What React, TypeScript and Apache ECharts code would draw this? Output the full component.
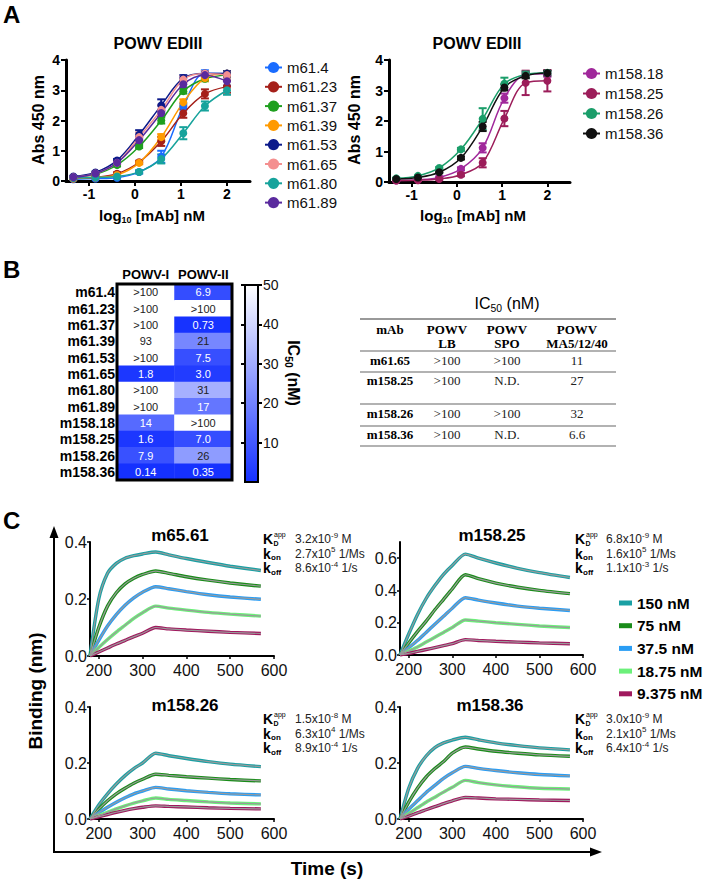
import React, { useEffect, useRef } from 'react';
import * as echarts from 'echarts';

const SANS = 'Liberation Sans, Arial, Helvetica, sans-serif';
const SERIF = 'Liberation Serif, Times New Roman, serif';

// ---------- Panel A : ELISA ----------
const logConc = [-1.34, -0.86, -0.39, 0.09, 0.57, 1.05, 1.52, 2.0];
const logTicks = [-1, 0, 1, 2];

const m61Names = ['m61.4', 'm61.23', 'm61.37', 'm61.39', 'm61.53', 'm61.65', 'm61.80', 'm61.89'];
const m61Colors = ['#1a6cff', '#a5201a', '#1f9f1f', '#ff9a00', '#0c1a8a', '#f49090', '#17a39c', '#5a2a9e'];
const m61_4 = [0.06, 0.08, 0.11, 0.3, 0.8, 2.46, 3.56, 3.55];
const m61_23 = [0.08, 0.12, 0.24, 0.62, 1.31, 2.24, 2.88, 3.12];
const m61_37 = [0.12, 0.22, 0.53, 1.14, 2.0, 2.97, 3.38, 3.5];
const m61_39 = [0.08, 0.12, 0.2, 0.6, 1.45, 2.6, 3.4, 3.55];
const m61_53 = [0.15, 0.28, 0.68, 1.53, 2.5, 3.4, 3.55, 3.55];
const m61_65 = [0.12, 0.25, 0.6, 1.45, 2.35, 3.35, 3.55, 3.5];
const m61_80 = [0.1, 0.12, 0.15, 0.3, 0.73, 1.58, 2.48, 3.0];
const m61_89 = [0.12, 0.25, 0.6, 1.35, 2.25, 3.2, 3.5, 3.3];
const m61Err_4 = [0.02, 0.02, 0.03, 0.05, 0.2, 0.1, 0.1, 0.08];
const m61Err_23 = [0.02, 0.02, 0.05, 0.05, 0.15, 0.15, 0.15, 0.2];
const m61Err_37 = [0.02, 0.02, 0.05, 0.05, 0.1, 0.08, 0.08, 0.08];
const m61Err_39 = [0.02, 0.02, 0.03, 0.05, 0.1, 0.1, 0.1, 0.08];
const m61Err_53 = [0.02, 0.03, 0.05, 0.15, 0.2, 0.1, 0.08, 0.08];
const m61Err_65 = [0.02, 0.02, 0.05, 0.15, 0.15, 0.1, 0.08, 0.08];
const m61Err_80 = [0.02, 0.02, 0.03, 0.05, 0.15, 0.2, 0.15, 0.15];
const m61Err_89 = [0.02, 0.02, 0.05, 0.1, 0.1, 0.1, 0.08, 0.15];

const m158Names = ['m158.18', 'm158.25', 'm158.26', 'm158.36'];
const m158Colors = ['#a0289b', '#9c1d5a', '#1b9e6a', '#111111'];
const m158_18 = [0.05, 0.07, 0.15, 0.43, 1.12, 2.75, 3.52, 3.55];
const m158_25 = [0.05, 0.06, 0.1, 0.24, 0.63, 2.08, 3.25, 3.32];
const m158_26 = [0.12, 0.2, 0.46, 1.07, 2.07, 3.22, 3.52, 3.58];
const m158_36 = [0.1, 0.15, 0.32, 0.79, 1.82, 3.1, 3.48, 3.57];
const m158Err_18 = [0.02, 0.02, 0.03, 0.05, 0.15, 0.15, 0.1, 0.1];
const m158Err_25 = [0.02, 0.02, 0.03, 0.05, 0.15, 0.25, 0.4, 0.35];
const m158Err_26 = [0.02, 0.02, 0.03, 0.05, 0.35, 0.2, 0.1, 0.05];
const m158Err_36 = [0.02, 0.02, 0.03, 0.05, 0.15, 0.1, 0.08, 0.08];

// ---------- Panel B : heatmap ----------
const hmRows = ['m61.4', 'm61.23', 'm61.37', 'm61.39', 'm61.53', 'm61.65', 'm61.80', 'm61.89', 'm158.18', 'm158.25', 'm158.26', 'm158.36'];
const hmCols = ['POWV-I', 'POWV-II'];
const powvI = ['>100', '>100', '>100', '93', '>100', '1.8', '>100', '>100', '14', '1.6', '7.9', '0.14'];
const powvII = ['6.9', '>100', '0.73', '21', '7.5', '3.0', '31', '17', '>100', '7.0', '26', '0.35'];
const cbTicks = [10, 20, 30, 40, 50];

// ---------- Panel B : table ----------
const tblMab = ['m61.65', 'm158.25', 'm158.26', 'm158.36'];
const tblLB = ['>100', '>100', '>100', '>100'];
const tblSPO = ['>100', 'N.D.', '>100', 'N.D.'];
const tblMA = ['11', '27', '32', '6.6'];

// ---------- Panel C : BLI ----------
const times = [180, 200, 220, 240, 260, 280, 300, 330, 360, 400, 450, 500, 570];
const timeTicks = [200, 300, 400, 500, 600];
const concNames = ['150 nM', '75 nM', '37.5 nM', '18.75 nM', '9.375 nM'];
const concColors = ['#1aa0a4', '#1a8c1a', '#2a9df4', '#6cf07a', '#a0195e'];

const c1_150 = [0, 0.2, 0.29, 0.325, 0.343, 0.352, 0.358, 0.365, 0.355, 0.342, 0.328, 0.315, 0.3];
const c1_75 = [0, 0.1, 0.175, 0.222, 0.253, 0.273, 0.286, 0.298, 0.29, 0.278, 0.266, 0.256, 0.245];
const c1_37 = [0, 0.055, 0.105, 0.145, 0.178, 0.204, 0.224, 0.243, 0.236, 0.226, 0.215, 0.207, 0.199];
const c1_18 = [0, 0.03, 0.058, 0.084, 0.108, 0.132, 0.152, 0.175, 0.168, 0.161, 0.153, 0.147, 0.14];
const c1_9 = [0, 0.014, 0.028, 0.042, 0.055, 0.068, 0.08, 0.1, 0.095, 0.091, 0.087, 0.083, 0.079];

const c2_150 = [0, 0.13, 0.25, 0.35, 0.43, 0.5, 0.555, 0.625, 0.6, 0.57, 0.537, 0.51, 0.48];
const c2_75 = [0, 0.075, 0.145, 0.21, 0.28, 0.345, 0.41, 0.497, 0.473, 0.445, 0.42, 0.4, 0.38];
const c2_37 = [0, 0.045, 0.09, 0.14, 0.19, 0.24, 0.29, 0.355, 0.34, 0.322, 0.303, 0.29, 0.276];
const c2_18 = [0, 0.025, 0.05, 0.08, 0.11, 0.14, 0.17, 0.217, 0.21, 0.2, 0.19, 0.18, 0.17];
const c2_9 = [0, 0.01, 0.022, 0.034, 0.046, 0.058, 0.07, 0.095, 0.09, 0.085, 0.08, 0.075, 0.07];

const c3_150 = [0, 0.05, 0.09, 0.125, 0.155, 0.18, 0.2, 0.235, 0.226, 0.216, 0.205, 0.196, 0.187];
const c3_75 = [0, 0.035, 0.065, 0.09, 0.11, 0.128, 0.142, 0.16, 0.156, 0.151, 0.146, 0.141, 0.136];
const c3_37 = [0, 0.022, 0.042, 0.06, 0.076, 0.09, 0.1, 0.113, 0.107, 0.101, 0.095, 0.09, 0.086];
const c3_18 = [0, 0.012, 0.024, 0.036, 0.047, 0.057, 0.065, 0.075, 0.07, 0.066, 0.061, 0.057, 0.054];
const c3_9 = [0, 0.008, 0.016, 0.024, 0.031, 0.037, 0.042, 0.047, 0.045, 0.043, 0.04, 0.038, 0.036];

const c4_150 = [0, 0.11, 0.18, 0.225, 0.255, 0.272, 0.282, 0.292, 0.283, 0.272, 0.262, 0.254, 0.247];
const c4_75 = [0, 0.06, 0.11, 0.15, 0.18, 0.205, 0.235, 0.257, 0.25, 0.242, 0.235, 0.229, 0.224];
const c4_37 = [0, 0.035, 0.065, 0.095, 0.12, 0.145, 0.165, 0.188, 0.181, 0.173, 0.165, 0.159, 0.154];
const c4_18 = [0, 0.02, 0.04, 0.06, 0.078, 0.096, 0.113, 0.138, 0.13, 0.122, 0.115, 0.11, 0.107];
const c4_9 = [0, 0.01, 0.022, 0.033, 0.044, 0.055, 0.065, 0.077, 0.075, 0.072, 0.07, 0.068, 0.066];

const bliTitles = ['m65.61', 'm158.25', 'm158.26', 'm158.36'];
// [KD mantissa, exp], [kon mantissa, exp], [koff mantissa, exp]
const kinC1 = [['3.2', '-9'], ['2.7', '5'], ['8.6', '-4']];
const kinC2 = [['6.8', '-9'], ['1.6', '5'], ['1.1', '-3']];
const kinC3 = [['1.5', '-8'], ['6.3', '4'], ['8.9', '-4']];
const kinC4 = [['3.0', '-9'], ['2.1', '5'], ['6.4', '-4']];
const kinUnits = ['M', '1/Ms', '1/s'];

function txt(x: number, y: number, text: string, o: any = {}) {
  return {
    type: 'text',
    x,
    y,
    rotation: o.rotation || 0,
    silent: true,
    z: 100,
    style: {
      text,
      fill: o.fill || '#000',
      fontSize: o.size || 14,
      fontWeight: o.weight || 'normal',
      fontFamily: o.family || SANS,
      align: o.align || 'left',
      textAlign: o.align || 'left',
      verticalAlign: 'middle',
      textVerticalAlign: 'middle',
      rich: o.rich,
    },
  };
}

function line(x1: number, y1: number, x2: number, y2: number, color = '#000', w = 2) {
  return { type: 'line', silent: true, z: 100, shape: { x1, y1, x2, y2 }, style: { stroke: color, lineWidth: w } };
}

const expRich = {
  n: { fontSize: 12, fontFamily: SANS, fill: '#222', lineHeight: 16 },
  e: { fontSize: 8, fontFamily: SANS, fill: '#222', lineHeight: 8, verticalAlign: 'top' },
};

function kinBlock(x: number, vx: number, y: number, kin: string[][]) {
  const out: any[] = [];
  const ys = [y, y + 14.5, y + 29];
  out.push(txt(x, ys[0], 'K', { size: 14, weight: 'bold' }));
  out.push(txt(x + 10.5, ys[0] + 4, 'D', { size: 7, weight: 'bold' }));
  out.push(txt(x + 11, ys[0] - 5, 'app', { size: 7 }));
  out.push(txt(x, ys[1], 'k', { size: 14, weight: 'bold' }));
  out.push(txt(x + 8, ys[1] + 4, 'on', { size: 8, weight: 'bold' }));
  out.push(txt(x, ys[2], 'k', { size: 14, weight: 'bold' }));
  out.push(txt(x + 8, ys[2] + 4, 'off', { size: 8, weight: 'bold' }));
  kin.forEach((k, i) => {
    out.push(txt(vx, ys[i], `{n|${k[0]}x10}{e|${k[1]}}{n| ${kinUnits[i]}}`, { rich: expRich }));
  });
  return out;
}

function buildOption() {
  const series: any[] = [];

  const elisa = (names: string[], colors: string[], vals: number[][], errs: number[][], gi: number) => {
    names.forEach((n, i) => {
      const color = colors[i];
      series.push({
        type: 'line',
        name: n,
        xAxisIndex: gi,
        yAxisIndex: gi,
        data: logConc.map((x, j) => [x, vals[i][j]]),
        smooth: 0.35,
        symbol: 'circle',
        symbolSize: 8,
        lineStyle: { width: 1.5, color },
        itemStyle: { color },
        z: 3,
      });
      series.push({
        type: 'custom',
        name: n + ' sem',
        xAxisIndex: gi,
        yAxisIndex: gi,
        silent: true,
        z: 2,
        data: logConc.map((x, j) => [x, vals[i][j], errs[i][j]]),
        renderItem: (_p: any, api: any) => {
          const x = api.value(0);
          const y = api.value(1);
          const e = api.value(2);
          const t = api.coord([x, y + e]);
          const b = api.coord([x, y - e]);
          const w = 4;
          const st = { stroke: color, lineWidth: 2 };
          return {
            type: 'group',
            children: [
              { type: 'line', shape: { x1: t[0], y1: t[1], x2: b[0], y2: b[1] }, style: st },
              { type: 'line', shape: { x1: t[0] - w, y1: t[1], x2: t[0] + w, y2: t[1] }, style: st },
              { type: 'line', shape: { x1: b[0] - w, y1: b[1], x2: b[0] + w, y2: b[1] }, style: st },
            ],
          };
        },
      });
    });
  };
  elisa(m61Names, m61Colors, [m61_4, m61_23, m61_37, m61_39, m61_53, m61_65, m61_80, m61_89],
    [m61Err_4, m61Err_23, m61Err_37, m61Err_39, m61Err_53, m61Err_65, m61Err_80, m61Err_89], 0);
  elisa(m158Names, m158Colors, [m158_18, m158_25, m158_26, m158_36],
    [m158Err_18, m158Err_25, m158Err_26, m158Err_36], 1);

  // heatmap
  const hmData: any[] = [];
  [powvI, powvII].forEach((col, c) => {
    col.forEach((lab, r) => {
      const num = lab.startsWith('>') ? 100 : parseFloat(lab);
      hmData.push({ value: [c, r, num], txt: lab, label: { color: num < 20 ? '#ffffff' : '#222222' } });
    });
  });
  const hmIndex = series.length;
  series.push({
    type: 'heatmap',
    xAxisIndex: 2,
    yAxisIndex: 2,
    data: hmData,
    label: { show: true, fontSize: 11, fontFamily: SANS, formatter: (p: any) => p.data.txt },
    itemStyle: { borderWidth: 0 },
  });
  // colour bar
  series.push({
    type: 'bar',
    xAxisIndex: 3,
    yAxisIndex: 3,
    data: [50],
    barWidth: '100%',
    silent: true,
    itemStyle: {
      color: new echarts.graphic.LinearGradient(0, 0, 0, 1, [
        { offset: 0, color: '#ffffff' },
        { offset: 1, color: '#1430ff' },
      ]),
    },
  });

  // BLI
  const bli = (panel: number[][], gi: number) => {
    panel.forEach((vals, i) => {
      const data = times.map((t, j) => [t, vals[j]]);
      series.push({
        type: 'line', name: concNames[i], xAxisIndex: gi, yAxisIndex: gi, data,
        symbol: 'none', smooth: 0.25, lineStyle: { width: 3.4, color: concColors[i] },
        itemStyle: { color: concColors[i] }, z: 2, silent: true,
      });
      series.push({
        type: 'line', name: concNames[i] + ' fit', xAxisIndex: gi, yAxisIndex: gi, data,
        symbol: 'none', smooth: 0.25, lineStyle: { width: 1.2, color: '#9a9a9a' }, z: 3, silent: true,
      });
    });
  };
  bli([c1_150, c1_75, c1_37, c1_18, c1_9], 4);
  bli([c2_150, c2_75, c2_37, c2_18, c2_9], 5);
  bli([c3_150, c3_75, c3_37, c3_18, c3_9], 6);
  bli([c4_150, c4_75, c4_37, c4_18, c4_9], 7);

  const grid = [
    { left: 66, top: 60, width: 184, height: 121 },
    { left: 389, top: 60, width: 181, height: 122 },
    { left: 117, top: 284, width: 115, height: 196 },
    { left: 245, top: 285, width: 13, height: 197 },
    { left: 90, top: 542, width: 184, height: 114 },
    { left: 400, top: 542, width: 183, height: 113 },
    { left: 90, top: 707, width: 184, height: 112 },
    { left: 400, top: 707, width: 183, height: 112 },
  ];

  const aX = (gi: number) => ({
    gridIndex: gi, type: 'value', min: -1.5, max: 2.5,
    axisLine: { show: true, onZero: false, lineStyle: { color: '#000', width: 3 } },
    axisTick: { show: true, customValues: logTicks, length: 5, lineStyle: { color: '#000', width: 2 } },
    axisLabel: { customValues: logTicks, fontWeight: 'bold', fontSize: 14, color: '#000', fontFamily: SANS, margin: 6 },
    splitLine: { show: false },
  });
  const aY = (gi: number) => ({
    gridIndex: gi, type: 'value', min: 0, max: 4, interval: 1,
    axisLine: { show: true, onZero: false, lineStyle: { color: '#000', width: 3 } },
    axisTick: { show: true, length: 5, lineStyle: { color: '#000', width: 2 } },
    axisLabel: { fontWeight: 'bold', fontSize: 14, color: '#000', fontFamily: SANS, margin: 6 },
    splitLine: { show: false },
  });
  const cX = (gi: number) => ({
    gridIndex: gi, type: 'value', min: 180, max: 600,
    axisLine: { show: true, onZero: false, lineStyle: { color: '#000', width: 2 } },
    axisTick: { show: true, customValues: timeTicks, length: 3, lineStyle: { color: '#000', width: 1.5 } },
    axisLabel: { customValues: timeTicks, fontSize: 16, color: '#111', fontFamily: SANS, margin: 6 },
    splitLine: { show: false },
  });
  const cY = (gi: number, max: number, ticks: number[]) => ({
    gridIndex: gi, type: 'value', min: 0, max,
    axisLine: { show: true, onZero: false, lineStyle: { color: '#000', width: 2 } },
    axisTick: { show: true, customValues: ticks, length: 3, lineStyle: { color: '#000', width: 1.5 } },
    axisLabel: { customValues: ticks, fontSize: 16, color: '#111', fontFamily: SANS, margin: 3, formatter: (v: number) => v.toFixed(1) },
    splitLine: { show: false },
  });

  const xAxis = [
    aX(0), aX(1),
    { gridIndex: 2, type: 'category', data: hmCols, position: 'top', axisLine: { show: false }, axisTick: { show: false },
      axisLabel: { interval: 0, fontWeight: 'bold', fontSize: 13, color: '#000', fontFamily: SANS, margin: 3 } },
    { gridIndex: 3, type: 'category', data: ['IC50'], show: false },
    cX(4), cX(5), cX(6), cX(7),
  ];
  const yAxis = [
    aY(0), aY(1),
    { gridIndex: 2, type: 'category', data: hmRows, inverse: true, axisLine: { show: false }, axisTick: { show: false },
      axisLabel: { interval: 0, fontWeight: 'bold', fontSize: 14, color: '#000', fontFamily: SANS, margin: 2 } },
    { gridIndex: 3, type: 'value', min: 0, max: 50, position: 'right',
      axisLine: { show: true, lineStyle: { color: '#000', width: 2 } },
      axisTick: { show: true, customValues: cbTicks, length: 4, lineStyle: { color: '#000', width: 2 } },
      axisLabel: { customValues: cbTicks, fontSize: 14, color: '#111', fontFamily: SANS, margin: 5 },
      splitLine: { show: false } },
    cY(4, 0.4, [0, 0.2, 0.4]), cY(5, 0.7, [0, 0.2, 0.4, 0.6]), cY(6, 0.4, [0, 0.2, 0.4]), cY(7, 0.4, [0, 0.2, 0.4]),
    { gridIndex: 3, type: 'value', min: 0, max: 50, position: 'left',
      axisLine: { show: true, lineStyle: { color: '#000', width: 2 } },
      axisTick: { show: true, customValues: cbTicks, length: 4, lineStyle: { color: '#000', width: 2 } },
      axisLabel: { show: false }, splitLine: { show: false } },
  ];

  const legend = [
    { data: m61Names, orient: 'vertical', left: 259, top: 55, itemWidth: 17, itemHeight: 14, itemGap: 4.3,
      textStyle: { fontSize: 15, color: '#111', fontFamily: SANS, lineHeight: 14 }, selectedMode: false },
    { data: m158Names, orient: 'vertical', left: 577, top: 61, itemWidth: 17, itemHeight: 14, itemGap: 5,
      textStyle: { fontSize: 15, color: '#111', fontFamily: SANS, lineHeight: 14 }, selectedMode: false },
    { data: concNames, orient: 'vertical', left: 614, top: 589, itemWidth: 13, itemHeight: 5, itemGap: 4.7, icon: 'rect',
      textStyle: { fontSize: 15.5, fontWeight: 'bold', color: '#000', fontFamily: SANS, lineHeight: 18 }, selectedMode: false },
  ];

  const subRich = {
    a: { fontSize: 15, fontWeight: 'bold', fontFamily: SANS, fill: '#000', lineHeight: 18 },
    s: { fontSize: 9, fontWeight: 'bold', fontFamily: SANS, fill: '#000', lineHeight: 9, verticalAlign: 'bottom' },
  };
  const icRich = (size: number, weight: string) => ({
    a: { fontSize: size, fontWeight: weight, fontFamily: SANS, fill: '#000', lineHeight: size + 4 },
    s: { fontSize: size * 0.65, fontWeight: weight, fontFamily: SANS, fill: '#000', lineHeight: size * 0.65, verticalAlign: 'bottom' },
  });

  const g: any[] = [];
  // panel letters
  g.push(txt(3, 14, 'A', { size: 24, weight: 'bold' }));
  g.push(txt(3, 269, 'B', { size: 24, weight: 'bold' }));
  g.push(txt(3, 520, 'C', { size: 24, weight: 'bold' }));
  // panel A texts
  g.push(txt(158, 43, 'POWV EDIII', { size: 16, weight: 'bold', align: 'center' }));
  g.push(txt(477, 43, 'POWV EDIII', { size: 16, weight: 'bold', align: 'center' }));
  g.push(txt(38, 120, 'Abs 450 nm', { size: 16, weight: 'bold', align: 'center', rotation: Math.PI / 2 }));
  g.push(txt(354, 120, 'Abs 450 nm', { size: 16, weight: 'bold', align: 'center', rotation: Math.PI / 2 }));
  g.push(txt(152, 215, '{a|log}{s|10}{a| [mAb] nM}', { align: 'center', rich: subRich }));
  g.push(txt(473, 215, '{a|log}{s|10}{a| [mAb] nM}', { align: 'center', rich: subRich }));
  // heatmap frame and colour bar frame
  g.push({ type: 'rect', silent: true, z: 100, shape: { x: 117, y: 284, width: 115, height: 196 }, style: { fill: 'none', stroke: '#000', lineWidth: 3 } });
  g.push({ type: 'rect', silent: true, z: 100, shape: { x: 245, y: 285, width: 13, height: 197 }, style: { fill: 'none', stroke: '#000', lineWidth: 2 } });
  g.push(txt(293, 373, '{a|IC}{s|50}{a| (nM)}', { align: 'center', rotation: -Math.PI / 2, rich: icRich(16, 'bold') }));
  // table
  g.push(txt(507, 303, '{a|IC}{s|50}{a| (nM)}', { align: 'center', rich: icRich(16, 'normal') }));
  const tblX = [390, 447, 507, 577];
  const tblY = [360, 380, 413, 434];
  [319, 351, 372, 404, 426, 446].forEach((y, i) => g.push(line(360, y, 616, y, '#999', i === 0 ? 2 : 1.5)));
  const hdr = { size: 13, weight: 'bold', family: SERIF, align: 'center' };
  g.push(txt(tblX[0], 329, 'mAb', hdr));
  g.push(txt(tblX[1], 329, 'POWV', hdr));
  g.push(txt(tblX[2], 329, 'POWV', hdr));
  g.push(txt(tblX[3], 329, 'POWV', hdr));
  g.push(txt(tblX[1], 343, 'LB', hdr));
  g.push(txt(tblX[2], 343, 'SPO', hdr));
  g.push(txt(tblX[3], 343, 'MA5/12/40', hdr));
  tblMab.forEach((m, i) => {
    g.push(txt(tblX[0], tblY[i], m, hdr));
    g.push(txt(tblX[1], tblY[i], tblLB[i], { size: 13, family: SERIF, align: 'center', fill: '#222' }));
    g.push(txt(tblX[2], tblY[i], tblSPO[i], { size: 13, family: SERIF, align: 'center', fill: '#222' }));
    g.push(txt(tblX[3], tblY[i], tblMA[i], { size: 13, family: SERIF, align: 'center', fill: '#222' }));
  });
  // panel C
  const titlePos = [[180, 535], [492, 535], [185, 705], [490, 705]];
  bliTitles.forEach((t, i) => g.push(txt(titlePos[i][0], titlePos[i][1], t, { size: 17, weight: 'bold', align: 'center' })));
  g.push(...kinBlock(263, 295, 539, kinC1));
  g.push(...kinBlock(575, 606, 539, kinC2));
  g.push(...kinBlock(263, 295, 719, kinC3));
  g.push(...kinBlock(575, 606, 719, kinC4));
  g.push(line(54, 852, 54, 534, '#000', 2));
  g.push(line(53, 852, 594, 852, '#000', 2));
  g.push({ type: 'polygon', silent: true, z: 100, shape: { points: [[54, 526], [49.5, 538], [58.5, 538]] }, style: { fill: '#000' } });
  g.push({ type: 'polygon', silent: true, z: 100, shape: { points: [[602, 852], [590, 847.5], [590, 856.5]] }, style: { fill: '#000' } });
  g.push(txt(35, 691, 'Binding (nm)', { size: 19, weight: 'bold', align: 'center', rotation: Math.PI / 2 }));
  g.push(txt(327, 868, 'Time (s)', { size: 19, weight: 'bold', align: 'center' }));

  return {
    animation: false,
    backgroundColor: '#ffffff',
    textStyle: { fontFamily: SANS },
    grid,
    xAxis,
    yAxis,
    legend,
    visualMap: {
      type: 'continuous', show: false, min: 0, max: 50, seriesIndex: hmIndex, dimension: 2,
      inRange: { color: ['#1430ff', '#ffffff'] },
      outOfRange: { color: ['#ffffff'] },
    },
    series,
    graphic: g,
  };
}

export default function App() {
  const ref = useRef<HTMLDivElement>(null);
  useEffect(() => {
    const chart = echarts.init(ref.current!, null, { renderer: 'svg', width: 711, height: 880 });
    chart.setOption(buildOption() as any);
    return () => chart.dispose();
  }, []);
  return (
    <div
      ref={ref}
      style={{ position: 'absolute', left: 0, top: 0, width: 711, height: 880, background: '#fff' }}
    />
  );
}
